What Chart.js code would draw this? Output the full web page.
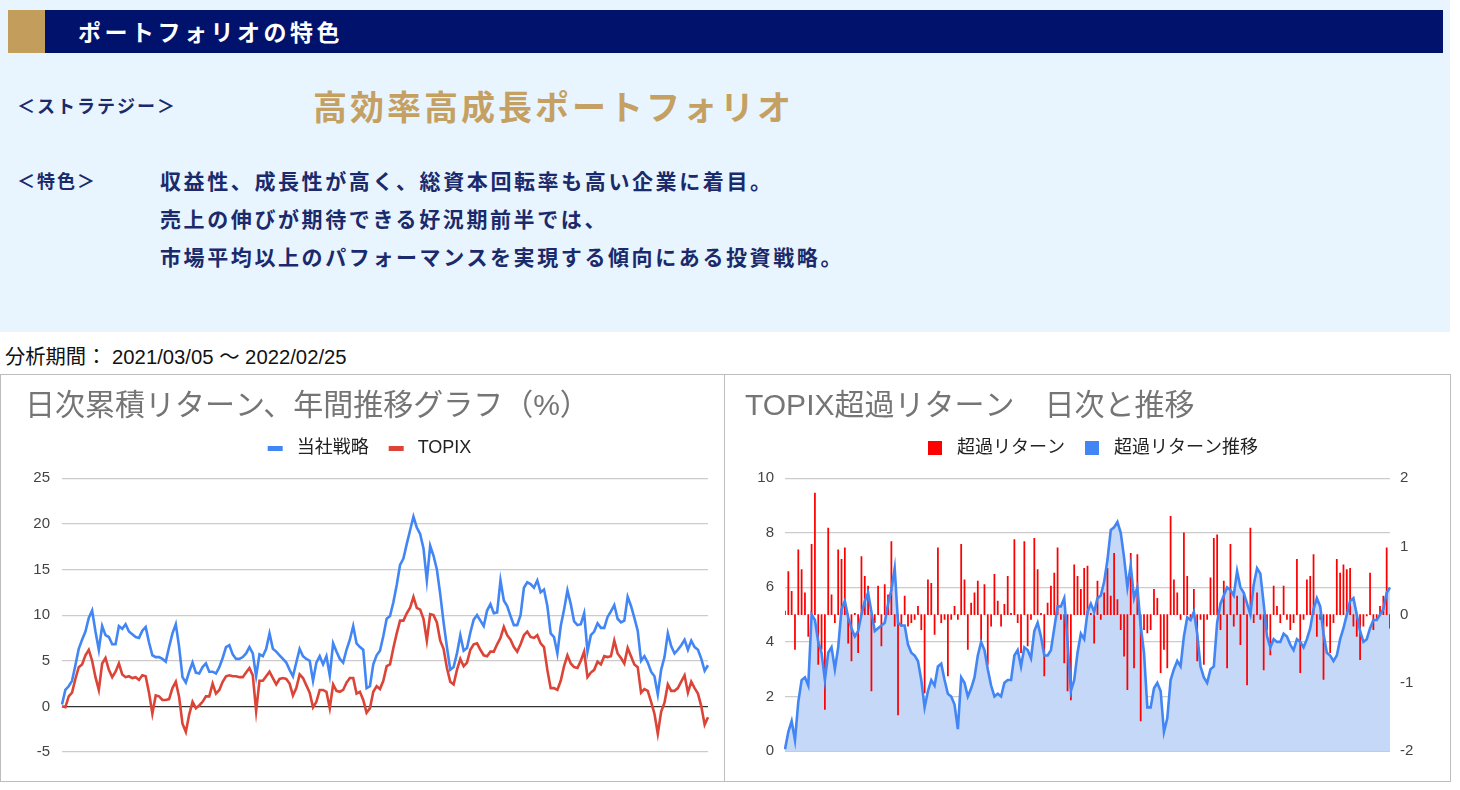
<!DOCTYPE html>
<html><head><meta charset="utf-8">
<script src="https://cdn.jsdelivr.net/npm/chart.js@4.4.1/dist/chart.umd.min.js"></script>
<style>
html,body{margin:0;padding:0;background:#fff;}
body{width:1460px;height:790px;position:relative;overflow:hidden;font-family:"Noto Sans CJK JP",sans-serif;}
#panel{position:absolute;left:0;top:0;width:1450px;height:332px;background:#e8f5fe;}
#hdr{position:absolute;left:8px;top:10px;width:1435px;height:43px;background:#00126b;}
#gold{position:absolute;left:0;top:0;width:37px;height:43px;background:#c29d5c;}
#hdrText{position:absolute;left:70px;top:0;line-height:43px;color:#fff;font-size:23px;font-weight:bold;letter-spacing:3.5px;white-space:nowrap;}
.lab{position:absolute;left:17px;color:#1b2a6b;font-size:18px;font-weight:bold;letter-spacing:2px;line-height:30px;white-space:nowrap;}
#big{position:absolute;left:313px;top:84px;line-height:44px;font-size:34px;font-weight:bold;color:#c5a063;letter-spacing:3px;white-space:nowrap;}
.line{position:absolute;left:160px;color:#1b2a6b;font-size:21px;font-weight:bold;letter-spacing:2.6px;line-height:30px;white-space:nowrap;}
#period{position:absolute;left:5px;top:345px;line-height:24px;font-size:20.3px;color:#111;font-family:"Liberation Sans",Arial,"Noto Sans CJK JP",sans-serif;white-space:nowrap;}
.box{position:absolute;top:374px;height:406px;border:1px solid #bdbdbd;box-sizing:content-box;}
.cv{position:absolute;top:375px;}
</style></head>
<body>
<div id="panel"></div>
<div id="hdr"><div id="gold"></div><div id="hdrText">ポートフォリオの特色</div></div>
<div class="lab" style="top:90px">＜ストラテジー＞</div>
<div id="big">高効率高成長ポートフォリオ</div>
<div class="lab" style="top:165px">＜特色＞</div>
<div class="line" style="top:165px">収益性、成長性が高く、総資本回転率も高い企業に着目。</div>
<div class="line" style="top:203px">売上の伸びが期待できる好況期前半では、</div>
<div class="line" style="top:241px">市場平均以上のパフォーマンスを実現する傾向にある投資戦略。</div>
<div id="period">分析期間： 2021/03/05 ～ 2022/02/25</div>
<div class="box" style="left:0;width:723px;"></div>
<div class="box" style="left:724px;width:725px;"></div>
<canvas id="c1" class="cv" width="722" height="405" style="left:1px;width:722px;height:405px;"></canvas>
<canvas id="c2" class="cv" width="724" height="405" style="left:725px;width:724px;height:405px;"></canvas>
<script>
// ---- Left chart data: cumulative daily return (%) ----
const strategy = [
0.2,1.8,2.2,2.8,4.5,6.3,7.3,8.2,9.7,10.5,
8.2,6.2,8.8,7.8,7.6,6.8,6.8,8.8,8.5,9.0,
8.2,7.9,7.6,7.5,8.3,8.7,7.0,5.6,5.4,5.4,
5.2,4.9,6.5,8.0,9.0,6.5,3.2,2.6,3.8,4.8,
3.7,3.6,4.3,4.7,3.8,3.8,3.6,4.3,5.3,6.5,
6.7,5.7,5.2,5.2,5.4,5.8,6.5,5.8,3.3,5.7,
5.5,6.3,8.0,6.3,6.0,
5.6,5.2,4.8,4.0,3.3,4.8,6.3,5.5,5.2,5.0,
2.8,4.8,5.5,4.6,5.5,3.4,6.9,6.0,5.2,4.8,
6.2,7.3,8.8,6.9,6.5,6.2,2.0,2.2,4.6,5.6,
6.1,7.7,9.6,9.9,11.4,13.3,15.5,16.2,17.8,19.3,
20.8,19.6,18.9,17.3,13.8,17.6,16.5,15.0,12.3,9.2,
6.5,4.0,4.3,5.8,7.8,6.1,6.4,8.1,9.5,10.0,
9.4,8.8,10.5,11.2,
10.2,10.3,13.8,11.6,11.0,9.9,8.9,8.9,10.0,13.0,
13.6,13.4,13.0,13.8,12.5,12.8,11.0,8.0,7.6,5.8,
8.8,10.6,12.7,11.2,9.3,8.9,9.0,10.2,6.0,7.8,
8.2,9.1,8.6,8.6,9.8,10.4,11.1,9.6,9.2,9.4,
12.0,11.0,9.7,8.3,5.0,5.5,4.8,3.8,3.3,1.3,
4.0,5.4,8.0,6.6,5.8,6.2,6.7,7.3,6.2,7.2,
6.5,6.2,5.2,3.9,4.5
];
const topix = [
0.0,-0.1,1.1,1.5,3.0,4.3,4.6,5.6,6.2,5.0,
3.2,1.8,4.7,5.3,4.0,3.2,3.8,4.7,3.5,3.2,
3.3,3.1,3.2,2.9,3.4,3.3,1.5,-0.8,1.2,1.1,
0.7,0.7,0.8,2.0,2.7,1.0,-1.9,-2.8,-0.9,0.5,
-0.2,0.1,0.5,1.1,1.1,2.5,1.4,1.8,2.7,3.3,
3.4,3.3,3.3,3.2,3.2,3.7,4.2,3.4,-0.5,2.8,
2.8,3.3,3.8,3.1,2.4,
3.0,3.1,3.0,2.5,1.2,2.0,3.5,3.1,2.3,1.5,
-0.1,0.5,1.8,1.8,1.6,-0.2,2.4,1.7,1.6,1.8,
2.6,3.1,3.1,1.4,1.6,0.7,-0.7,-0.2,1.6,2.2,
1.9,2.8,4.4,4.6,6.4,8.0,9.4,9.4,10.2,10.8,
12.0,10.8,10.6,9.6,7.2,10.1,10.0,9.2,7.2,6.3,
4.2,2.7,2.4,4.0,5.2,4.4,4.8,6.2,6.8,6.9,
6.2,5.6,5.5,6.0,
6.0,6.8,7.5,8.7,7.8,7.3,6.5,6.0,6.8,7.8,
8.2,7.6,7.5,7.8,6.9,6.5,4.0,2.0,2.0,1.8,
2.8,4.4,5.6,4.7,4.3,4.2,5.0,6.0,3.2,3.7,
4.0,4.9,4.6,5.5,5.4,5.5,7.2,5.8,5.3,4.7,
6.4,5.5,4.6,4.3,1.5,1.9,1.7,0.5,-0.8,-3.0,
-0.6,0.4,2.4,1.7,1.7,2.0,2.7,3.4,1.5,2.7,
2.0,1.4,0.0,-2.0,-1.2
];
const leftTicks = [-5,0,5,10,15,20,25];

// ---- Right chart data: excess return vs TOPIX ----
const excessDaily = [
0.05,0.63,0.34,-0.51,0.95,0.66,0.32,-0.32,1.03,1.78,
-0.73,-0.51,-1.39,1.27,0.29,-0.12,0.95,0.81,0.98,-0.42,
-0.68,0.02,-0.56,0.85,0.56,0.42,-1.12,-0.12,0.42,-0.46,
0.44,0.29,1.07,-0.17,-1.47,-0.17,0.27,-0.17,-0.12,-0.07,
0.12,-0.22,-1.15,0.51,0.46,-0.29,0.98,-0.12,-0.07,-0.9,
-0.07,0.12,-0.07,1.03,0.51,-0.51,0.17,0.32,0.49,-0.37,
0.44,-0.73,-0.17,0.59,0.2,-0.17,0.15,0.56,0.02,1.1,
-0.12,-0.56,1.07,-0.46,-0.07,1.12,0.66,0.02,-0.9,0.17,
0.42,0.61,0.98,-0.07,-0.71,-1.12,-1.25,0.73,0.56,0.37,
0.68,0.71,0.02,-0.42,0.49,-0.07,0.32,0.68,0.27,0.9,
0.22,-0.22,-0.61,-1.1,0.9,-0.78,0.88,-1.56,-0.22,-0.27,
-0.22,0.37,0.24,-0.85,-0.51,-0.78,1.44,0.51,0.32,-0.07,
1.2,0.56,-0.07,0.37,-0.68,-0.07,-0.73,-0.07,0.54,1.12,
1.17,-0.22,0.49,-0.78,1.03,-0.17,0.27,-0.44,0.29,-1.03,
1.27,-0.12,0.32,-0.07,-0.81,-0.22,-0.59,0.42,0.12,-0.12,
0.42,-0.07,-0.22,-0.12,0.81,-0.85,-0.07,0.51,0.56,0.88,
-0.32,-0.07,-0.95,-0.17,-0.56,-0.12,0.81,0.61,0.73,0.66,
0.68,-0.17,-0.32,-0.66,-0.17,-0.02,0.61,-0.22,-0.07,0.12,
0.27,0.98,-0.2
];
const excessTrend = [
0.06,0.7,1.1,0.4,1.8,2.6,2.7,2.4,5.0,4.8,
4.0,3.6,2.6,3.6,3.8,3.0,3.8,5.2,5.5,4.9,
4.5,4.2,4.4,5.0,5.5,5.8,5.1,4.4,4.5,4.6,
4.7,5.4,5.9,6.7,4.7,4.6,4.6,3.9,3.6,3.5,
3.3,2.6,1.6,2.2,2.6,2.4,3.1,3.2,2.6,2.1,
2.0,1.7,0.8,2.7,2.5,2.0,2.3,2.7,3.5,4.0,
3.7,3.0,2.4,2.0,2.1,2.0,2.5,2.6,2.6,3.5,
3.7,3.1,3.8,3.7,3.4,4.4,4.7,4.2,3.5,3.5,
3.7,4.5,5.3,5.3,5.6,4.0,2.2,2.6,3.6,4.3,
4.1,5.1,5.4,5.1,5.6,5.7,6.2,7.0,8.1,8.2,
8.4,8.0,7.1,6.0,6.8,5.6,6.0,4.6,3.6,1.6,
1.6,2.3,2.5,2.2,0.7,1.2,2.6,3.0,3.3,3.1,
4.2,4.9,4.8,5.1,4.3,3.1,2.7,2.5,3.0,3.1,
4.7,5.4,5.7,6.0,5.9,5.7,6.6,6.0,5.8,5.4,
5.0,6.1,6.7,6.5,5.4,4.2,3.8,4.1,4.0,4.0,
4.3,4.2,3.9,3.7,4.1,4.0,3.8,4.1,4.5,5.2,
5.6,5.3,4.3,3.6,3.5,3.3,3.5,4.1,4.5,5.0,
5.5,5.6,5.0,4.4,4.0,4.1,4.5,4.8,4.8,5.0,
5.2,5.8,6.0
];
const trendTicks = [0,2,4,6,8,10];
const dailyTicks = [-2,-1,0,1,2];

const FONT = "'Liberation Sans', Arial, 'Noto Sans CJK JP', sans-serif";
const BLUE = '#4285f4', RED = '#db4437', BAR_RED = '#ff0000', FILL = '#c6d8f7';
Chart.defaults.font.family = FONT;
Chart.defaults.devicePixelRatio = 1;

// legend marker: image with a small left margin, the marker, then a gap before the label text
const MARK_W = 26, MARK_L = 6;
function legendMark(color, w, h) {
  const c = document.createElement('canvas');
  c.width = MARK_W; c.height = h;
  const g = c.getContext('2d');
  g.fillStyle = color; g.fillRect(MARK_L, 0, w, h);
  return c;
}
function legendLabels(chart) {
  return Chart.defaults.plugins.legend.labels.generateLabels(chart).map(l => {
    const ds = chart.data.datasets[l.datasetIndex];
    return Object.assign({}, l, {pointStyle: ds.legendMark, lineWidth: 0});
  });
}
const gridColor = ctx => (ctx.tick && ctx.tick.value === 0) ? '#333333' : '#cccccc';
const titleOpts = text => ({display: true, text, align: 'start', color: '#757575',
  font: {size: 30, weight: 'normal', family: FONT}, padding: {top: 14, bottom: 0}});
const spacer = {display: true, text: '', weight: 500, font: {size: 1}, padding: {top: 0, bottom: 10}};
const legendOpts = {position: 'top', align: 'center',
  labels: {usePointStyle: true, pointStyleWidth: MARK_W, padding: 14, color: '#222',
           font: {size: 18, family: FONT}, generateLabels: legendLabels,
           sort: (a, b) => a.datasetIndex - b.datasetIndex}};

new Chart(document.getElementById('c1'), {
  type: 'line',
  data: {
    labels: strategy.map((_, i) => i),
    datasets: [
      {label: '当社戦略', data: strategy, borderColor: BLUE, legendMark: legendMark(BLUE, 15, 5), borderWidth: 2.6, pointRadius: 0, tension: 0},
      {label: 'TOPIX', data: topix, borderColor: RED, legendMark: legendMark(RED, 15, 5), borderWidth: 2.6, pointRadius: 0, tension: 0}
    ]
  },
  options: {
    responsive: false, animation: false,
    layout: {padding: {left: 24, right: 15, top: 0, bottom: 28}},
    plugins: {
      title: titleOpts('日次累積リターン、年間推移グラフ（%）'),
      subtitle: spacer,
      legend: legendOpts,
      tooltip: {enabled: false}
    },
    scales: {
      x: {display: false},
      y: {min: -5, max: 25, afterBuildTicks: s => { s.ticks = leftTicks.map(v => ({value: v})); },
          afterFit: s => { s.width = 37; },
          ticks: {color: '#444', font: {size: 15}, padding: 12},
          grid: {color: gridColor, drawTicks: false, lineWidth: 1.2},
          border: {display: false}}
    }
  }
});

new Chart(document.getElementById('c2'), {
  type: 'bar',
  data: {
    labels: excessTrend.map((_, i) => i),
    datasets: [
      {type: 'bar', label: '超過リターン', data: excessDaily, yAxisID: 'y1', backgroundColor: BAR_RED,
       legendMark: legendMark(BAR_RED, 14, 14), borderWidth: 0, barThickness: 1.1, order: 1},
      {type: 'line', label: '超過リターン推移', data: excessTrend, yAxisID: 'y', borderColor: BLUE,
       legendMark: legendMark(BLUE, 14, 14), backgroundColor: FILL, fill: 'origin', borderWidth: 2.6,
       pointRadius: 0, tension: 0, order: 0}
    ]
  },
  options: {
    responsive: false, animation: false,
    layout: {padding: {left: 20, right: 14, top: 0, bottom: 29}},
    plugins: {
      filler: {drawTime: 'beforeDatasetsDraw'},
      title: titleOpts('TOPIX超過リターン　日次と推移'),
      subtitle: spacer,
      legend: legendOpts,
      tooltip: {enabled: false}
    },
    scales: {
      x: {display: false, offset: false},
      y: {position: 'left', min: 0, max: 10, afterBuildTicks: s => { s.ticks = trendTicks.map(v => ({value: v})); },
          afterFit: s => { s.width = 40; },
          ticks: {color: '#444', font: {size: 15}, padding: 11},
          grid: {color: gridColor, drawTicks: false, lineWidth: 1.2},
          border: {display: false}},
      y1: {position: 'right', min: -2, max: 2, afterBuildTicks: s => { s.ticks = dailyTicks.map(v => ({value: v})); },
           afterFit: s => { s.width = 45; },
           ticks: {color: '#444', font: {size: 15}, padding: 10},
           grid: {display: false, drawTicks: false},
           border: {display: false}}
    }
  }
});
</script>
</body></html>
